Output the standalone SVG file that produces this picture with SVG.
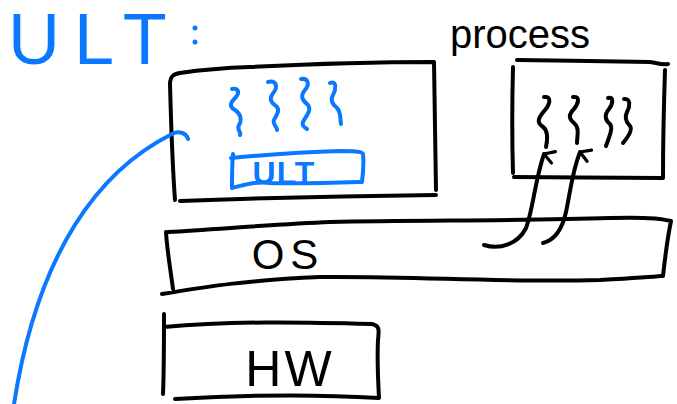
<svg xmlns="http://www.w3.org/2000/svg" width="677" height="404" viewBox="0 0 677 404">
  <defs>
    <style>
      .ink { fill: none; stroke: #000; stroke-width: 4; stroke-linecap: round; stroke-linejoin: round; }
      .blue { fill: none; stroke: #0a78ff; stroke-width: 4; stroke-linecap: round; stroke-linejoin: round; }
      .hand { font-family: "Liberation Sans", "DejaVu Sans", sans-serif; }
      .tblack { fill: #000; }
      .tblue { fill: #0a78ff; }
    </style>
    <marker id="open-arrow" viewBox="0 0 16 16" refX="8" refY="3" markerWidth="16" markerHeight="16" markerUnits="userSpaceOnUse" orient="auto">
      <path d="M2,13 L8,3 L14,13" fill="none" stroke="#000" stroke-width="3.2" stroke-linecap="round" stroke-linejoin="round"/>
    </marker>
  </defs>
  <rect width="677" height="404" fill="#fff"/>

  <!-- title -->
  <g id="title">
    <text class="hand tblue" x="8" y="64" font-size="72" letter-spacing="14">ULT</text>
    <circle cx="195" cy="28" r="2.5" fill="#0a78ff"/>
    <circle cx="195" cy="42" r="2.5" fill="#0a78ff"/>
  </g>

  <!-- user-level threads box -->
  <g id="ult-box">
    <path class="ink" d="M175,200 C172,160 171,120 170,84 C170,76 174,74 180,73 C200,70 220,68 250,67 C310,64 380,62 434,62 C435,110 435,150 436,190 M180,201 C260,198 350,196 436,195"/>
    <path class="blue" d="M232,89 C238,88 240,92 236,97 C231,102 228,106 235,110 C241,114 242,120 239,125 C236,130 242,133 240,135"/>
    <path class="blue" d="M268,82 C276,80 278,86 274,92 C269,98 270,102 276,106 C281,110 276,116 274,120 C272,124 278,128 277,130"/>
    <path class="blue" d="M301,79 C308,78 310,84 305,90 C300,96 302,100 308,105 C312,110 306,116 303,122 C301,126 306,128 307,129"/>
    <path class="blue" d="M330,83 C337,80 336,90 333,95 C330,100 332,104 337,108 C341,112 340,118 341,124"/>
    <path class="blue" d="M231,158 C262,155 300,152 340,151 C352,151 362,151 363,154 C364,164 363,174 362,182 C330,183 300,184 270,183 C255,181 245,185 232,188 M233,154 C232,165 232,176 232,187"/>
    <text class="hand tblue" x="284" y="184" font-size="32" font-weight="bold" text-anchor="middle" letter-spacing="1">ULT</text>
  </g>

  <!-- kernel-level process box -->
  <g id="process-box">
    <text class="hand tblack" x="520" y="48" font-size="40" text-anchor="middle">process</text>
    <path class="ink" d="M517,60 C560,61 610,61 650,62 C658,63 660,65 668,64 M513,67 C512,105 512,140 513,173 M514,177 C560,177 620,178 663,178 C663,140 664,100 665,70"/>
    <path class="ink" d="M544,97 C552,96 550,104 545,110 C539,117 536,122 542,126 C548,130 548,138 546,147"/>
    <path class="ink" d="M573,97 C581,96 578,104 574,109 C568,115 569,119 574,123 C580,128 577,136 577,143"/>
    <path class="ink" d="M608,98 C614,96 613,104 609,109 C604,115 605,120 610,124 C613,128 610,135 606,146"/>
    <path class="ink" d="M624,99 C631,98 630,107 627,112 C624,118 626,122 630,126 C633,130 628,137 623,143"/>
  </g>

  <!-- operating system bar -->
  <g id="os">
    <path class="ink" d="M168,232 C220,229 280,224 330,222 C420,220 520,221 610,218 C640,217 660,218 671,221 C667,240 665,258 663,276 M166,232 C167,250 170,266 173,289 M162,294 C210,286 250,280 320,277 C420,276 500,283 600,280 C635,278 652,277 661,276"/>
    <text class="hand tblack" x="288" y="269" font-size="42" text-anchor="middle" letter-spacing="6">OS</text>
  </g>

  <!-- hardware box -->
  <g id="hw">
    <path class="ink" d="M164,314 C164,340 164,370 163,394 M164,327 C230,321 300,322 372,324 C380,326 379,330 378,340 C377,360 378,380 379,398 C330,395 260,394 175,399"/>
    <text class="hand tblack" x="290" y="386" font-size="50" text-anchor="middle" letter-spacing="3">HW</text>
  </g>

  <!-- connectors -->
  <g id="connectors">
    <path class="blue" d="M188,139 C186,132 178,131 172,134 C100,170 38,250 14,404"/>
    <path class="ink" marker-end="url(#open-arrow)" d="M484,245 C500,250 518,244 526,228 C533,210 535,180 544,154"/>
    <path class="ink" marker-end="url(#open-arrow)" d="M543,243 C555,240 562,230 566,212 C570,194 572,172 580,152"/>
  </g>
</svg>
